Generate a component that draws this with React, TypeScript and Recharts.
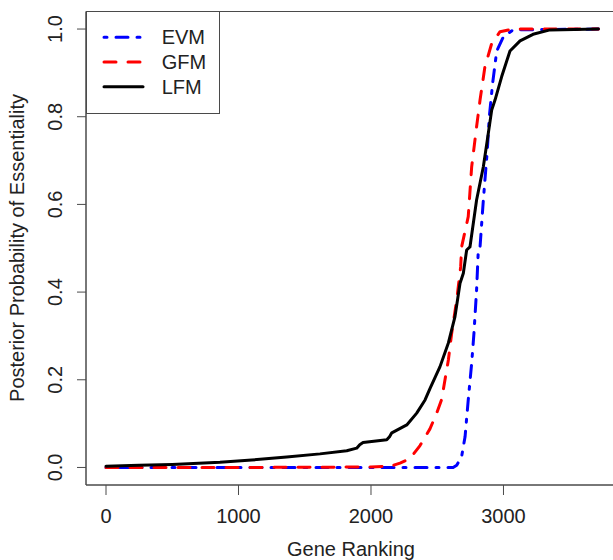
import React from "react";
import { LineChart, Line, XAxis, YAxis, Label, CartesianGrid } from "recharts";

const FONT = "'Liberation Sans', Arial, Helvetica, sans-serif";
const TEXT = "#222";
const FRAME = "#4a4a4a";

const xTicks = [0, 1000, 2000, 3000];
const yTicks = [0, 0.2, 0.4, 0.6, 0.8, 1.0];

// EVM
const evmRank = [0, 1000, 2000, 2620, 2647, 2684, 2710, 2734, 2760, 2777, 2797, 2810, 2823, 2848, 2878, 2893, 2918, 2949, 2999, 3072, 3716];
const evmProb = [0, 0, 0, 0, 0.005, 0.025, 0.07, 0.154, 0.238, 0.306, 0.405, 0.496, 0.503, 0.61, 0.724, 0.8, 0.876, 0.95, 0.982, 0.998, 1.0];

// GFM
const gfmRank = [0, 1000, 2000, 2150, 2219, 2294, 2370, 2445, 2496, 2533, 2584, 2609, 2647, 2677, 2684, 2734, 2760, 2797, 2823, 2860, 2911, 2974, 3072, 3716];
const gfmProb = [0, 0, 0.001, 0.003, 0.01, 0.02, 0.05, 0.088, 0.124, 0.155, 0.245, 0.306, 0.382, 0.458, 0.503, 0.572, 0.686, 0.777, 0.838, 0.914, 0.967, 0.994, 1.0, 1.0];

// LFM
const lfmRank = [0, 250, 500, 860, 1100, 1364, 1615, 1817, 1892, 1915, 1940, 2119, 2140, 2157, 2270, 2345, 2408, 2445, 2521, 2584, 2634, 2672, 2697, 2722, 2747, 2797, 2848, 2878, 2911, 2936, 2986, 3049, 3125, 3223, 3351, 3716];
const lfmProb = [0.003, 0.005, 0.007, 0.012, 0.017, 0.024, 0.031, 0.038, 0.044, 0.052, 0.057, 0.063, 0.07, 0.079, 0.097, 0.124, 0.154, 0.18, 0.23, 0.284, 0.344, 0.42, 0.443, 0.496, 0.503, 0.61, 0.686, 0.747, 0.815, 0.838, 0.891, 0.95, 0.973, 0.988, 0.998, 1.0];

const toPoints = (rank: number[], prob: number[]) => rank.map((r, i) => ({ rank: r, prob: prob[i] }));

const series = [
  { name: "EVM", color: "#0000ff", dash: "3 9 12 9", points: toPoints(evmRank, evmProb) },
  { name: "GFM", color: "#ff0000", dash: "12 12", points: toPoints(gfmRank, gfmProb) },
  { name: "LFM", color: "#000000", dash: undefined, points: toPoints(lfmRank, lfmProb) },
];

const XTick = (props: any) => (
  <text x={props.x} y={props.y + 25.5} textAnchor="middle" fontFamily={FONT} fontSize={20} fill={TEXT}>
    {props.payload.value}
  </text>
);

const YTick = (props: any) => (
  <text
    x={props.x - 13}
    y={props.y}
    transform={`rotate(-90 ${props.x - 13} ${props.y})`}
    textAnchor="middle"
    fontFamily={FONT}
    fontSize={20}
    fill={TEXT}
  >
    {props.payload.value.toFixed(1)}
  </text>
);

// box around the plotting region, like R's box()
const frameRows = ({ offset }: any) => [offset.top, offset.top + offset.height];
const frameCols = ({ offset }: any) => [offset.left, offset.left + offset.width];

const LegendBox = () => (
  <svg width={134} height={103} style={{ position: "absolute", left: 86, top: 11 }}>
    <rect x={0.5} y={0.5} width={133} height={102} fill="#fff" stroke={FRAME} strokeWidth={1} />
    {series.map((s, i) => {
      const y = 26.3 + i * 24.7;
      return (
        <g key={s.name}>
          <line x1={18} x2={57} y1={y} y2={y} stroke={s.color} strokeWidth={3} strokeDasharray={s.dash} strokeLinecap="round" />
          <text x={75.7} y={y + 7} fontFamily={FONT} fontSize={20} fill={TEXT}>
            {s.name}
          </text>
        </g>
      );
    })}
  </svg>
);

export default function App() {
  return (
    <div style={{ position: "absolute", left: 0, top: 0, width: 613, height: 560, overflow: "hidden", background: "#fff" }}>
      <LineChart width={620} height={560} margin={{ top: 11.5, right: 3.5, bottom: 0, left: 0 }}>
        <CartesianGrid
          stroke={FRAME}
          strokeWidth={1}
          horizontalCoordinatesGenerator={frameRows}
          verticalCoordinatesGenerator={frameCols}
        />
        <XAxis
          type="number"
          dataKey="rank"
          domain={[-151, 3853]}
          ticks={xTicks}
          allowDataOverflow
          height={75}
          tickSize={10}
          stroke={FRAME}
          tick={XTick}
        >
          <Label
            content={() => (
              <text x={351} y={556} textAnchor="middle" fontFamily={FONT} fontSize={20} fill={TEXT}>
                Gene Ranking
              </text>
            )}
          />
        </XAxis>
        <YAxis
          type="number"
          domain={[-0.04, 1.04]}
          ticks={yTicks}
          allowDataOverflow
          width={86}
          tickSize={9}
          stroke={FRAME}
          tick={YTick}
        >
          <Label
            content={() => (
              <text
                x={24}
                y={248}
                transform="rotate(-90 24 248)"
                textAnchor="middle"
                fontFamily={FONT}
                fontSize={20}
                fill={TEXT}
              >
                Posterior Probability of Essentiality
              </text>
            )}
          />
        </YAxis>
        {series.map((s) => (
          <Line
            key={s.name}
            data={s.points}
            dataKey="prob"
            name={s.name}
            type="linear"
            stroke={s.color}
            strokeWidth={3}
            strokeDasharray={s.dash}
            strokeLinecap="round"
            strokeLinejoin="round"
            dot={false}
            activeDot={false}
            isAnimationActive={false}
          />
        ))}
      </LineChart>
      <LegendBox />
    </div>
  );
}
